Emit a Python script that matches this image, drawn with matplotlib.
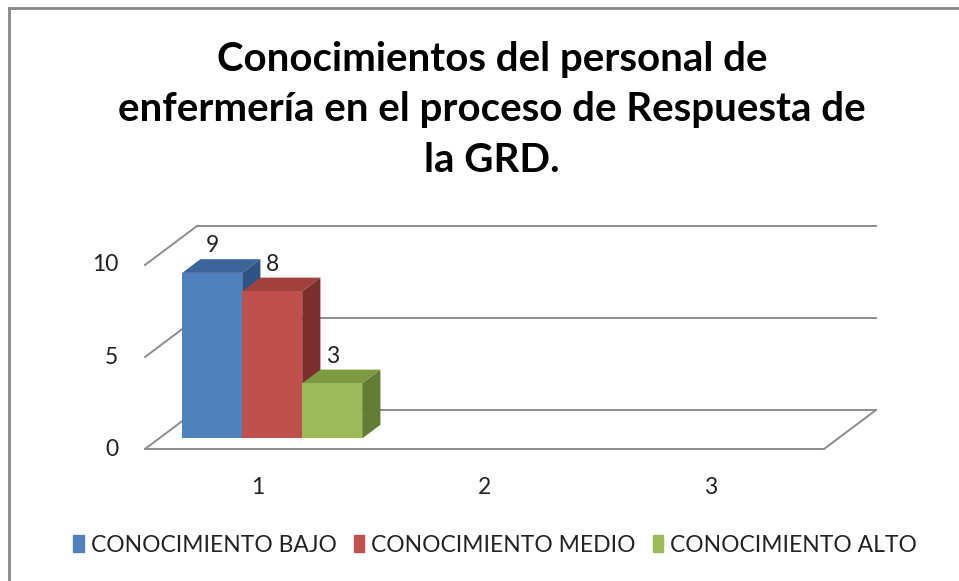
import matplotlib
matplotlib.use("Agg")
import matplotlib.pyplot as plt
from matplotlib.patches import Polygon
from matplotlib.transforms import ScaledTranslation, IdentityTransform

title = "Conocimientos del personal de\nenfermería en el proceso de Respuesta de\nla GRD."
categories = ["1", "2", "3"]
series_names = ["CONOCIMIENTO BAJO", "CONOCIMIENTO MEDIO", "CONOCIMIENTO ALTO"]
series_values = [[9, None, None], [8, None, None], [3, None, None]]
yticks = [0, 5, 10]

face_colors = ["#4F81BD", "#C0504D", "#9BBB59"]
top_colors = ["#3B6498", "#A0413E", "#7B9A42"]
side_colors = ["#2F5385", "#7C2E2C", "#637D36"]

W, H, DPI = 959, 581, 100
plt.rcParams['font.family'] = ['Lato', 'DejaVu Sans']
fig = plt.figure(figsize=(W / DPI, H / DPI), dpi=DPI)

# front plane of the 3D box (pixels)
x_left, x_right = 145, 824
y0_px, y10_px = 449, 265
ax = fig.add_axes([x_left / W, (H - y0_px) / H, (x_right - x_left) / W, (y0_px - y10_px) / H])
ax.set_xlim(0.5, 3.5)
ax.set_ylim(0, 10)
ax.axis("off")

DEPTH_X, DEPTH_Y = 52, 39  # pixels of full depth
ID = IdentityTransform()


def off(f):
    return ScaledTranslation(DEPTH_X * f / DPI, DEPTH_Y * f / DPI, fig.dpi_scale_trans)


def to_px(x, y, f):
    p = ax.transData.transform((x, y))
    return (p[0] + DEPTH_X * f, p[1] + DEPTH_Y * f)


grid_color = "#8C8C8C"
lw = 1.4
# back wall gridlines
for t in yticks:
    ax.plot([0.5, 3.5], [t, t], color=grid_color, lw=lw, transform=ax.transData + off(1.0),
            clip_on=False, zorder=1)
    a = to_px(0.5, t, 0)
    b = to_px(0.5, t, 1)
    ax.plot([a[0], b[0]], [a[1], b[1]], color=grid_color, lw=lw, transform=ID, clip_on=False, zorder=1)
# floor front edge + right edge
ax.plot([0.5, 3.5], [0, 0], color=grid_color, lw=lw, clip_on=False, zorder=1)
a = to_px(3.5, 0, 0)
b = to_px(3.5, 0, 1)
ax.plot([a[0], b[0]], [a[1], b[1]], color=grid_color, lw=lw, transform=ID, clip_on=False, zorder=1)

# bars
f1, f2 = 0.27, 0.62
bw = 60 / ((x_right - x_left) / 3)  # in category units
n = len(series_names)
for i in range(n):
    for j, v in enumerate(series_values[i]):
        if v is None:
            continue
        z = 3 + 3 * i
        xc = j + 1 + (i - (n - 1) / 2) * bw
        x0, x1 = xc - bw / 2, xc + bw / 2
        side = [to_px(x1, 0, f1), to_px(x1, 0, f2), to_px(x1, v, f2), to_px(x1, v, f1)]
        ax.add_patch(Polygon(side, closed=True, facecolor=side_colors[i], edgecolor="none",
                             transform=ID, zorder=z, clip_on=False))
        top = [to_px(x0, v, f1), to_px(x1, v, f1), to_px(x1, v, f2), to_px(x0, v, f2)]
        ax.add_patch(Polygon(top, closed=True, facecolor=top_colors[i], edgecolor="none",
                             transform=ID, zorder=z + 1, clip_on=False))
        ax.bar(xc, v, width=bw, color=face_colors[i], transform=ax.transData + off(f1), zorder=z + 2,
               clip_on=False)
        lx, _ = to_px(xc, v, f1)
        _, ly = to_px(xc, v, f2)
        fig.text(lx / W, (ly + 3) / H, str(v), ha="center", va="bottom", fontsize=16.5, color="#222222")

# y tick labels
for t in yticks:
    ax.text(0.5, t, str(t), transform=ax.transData + ScaledTranslation(-27 / DPI, 0, fig.dpi_scale_trans),
            ha="right", va="center", fontsize=16.5, color="#222222")
# category labels
for j, c in enumerate(categories):
    ax.text(j + 1, 0, c, transform=ax.transData + ScaledTranslation(0, -38 / DPI, fig.dpi_scale_trans),
            ha="center", va="center", fontsize=16.5, color="#222222")

fig.text(492 / W, 1 - 110 / H, title, ha="center", va="center", fontsize=29, fontweight="bold",
         linespacing=1.45, color="#000000")

# legend
handles = [plt.Rectangle((0, 0), 1, 1, color=c) for c in face_colors]
fig.legend(handles, series_names, loc="center", bbox_to_anchor=(495 / W, 1 - 545 / H), ncol=3,
           frameon=False, fontsize=16.5, handlelength=0.45, handleheight=0.75, handletextpad=0.3,
           columnspacing=0.75, labelcolor="#222222")

# chart border (top & left visible)
fig.add_artist(plt.Line2D([9 / W, 9 / W], [0, 1 - 8 / H], color="#888888", lw=2))
fig.add_artist(plt.Line2D([9 / W, 1], [1 - 8 / H, 1 - 8 / H], color="#888888", lw=2))

fig.savefig("out.png", dpi=DPI)
